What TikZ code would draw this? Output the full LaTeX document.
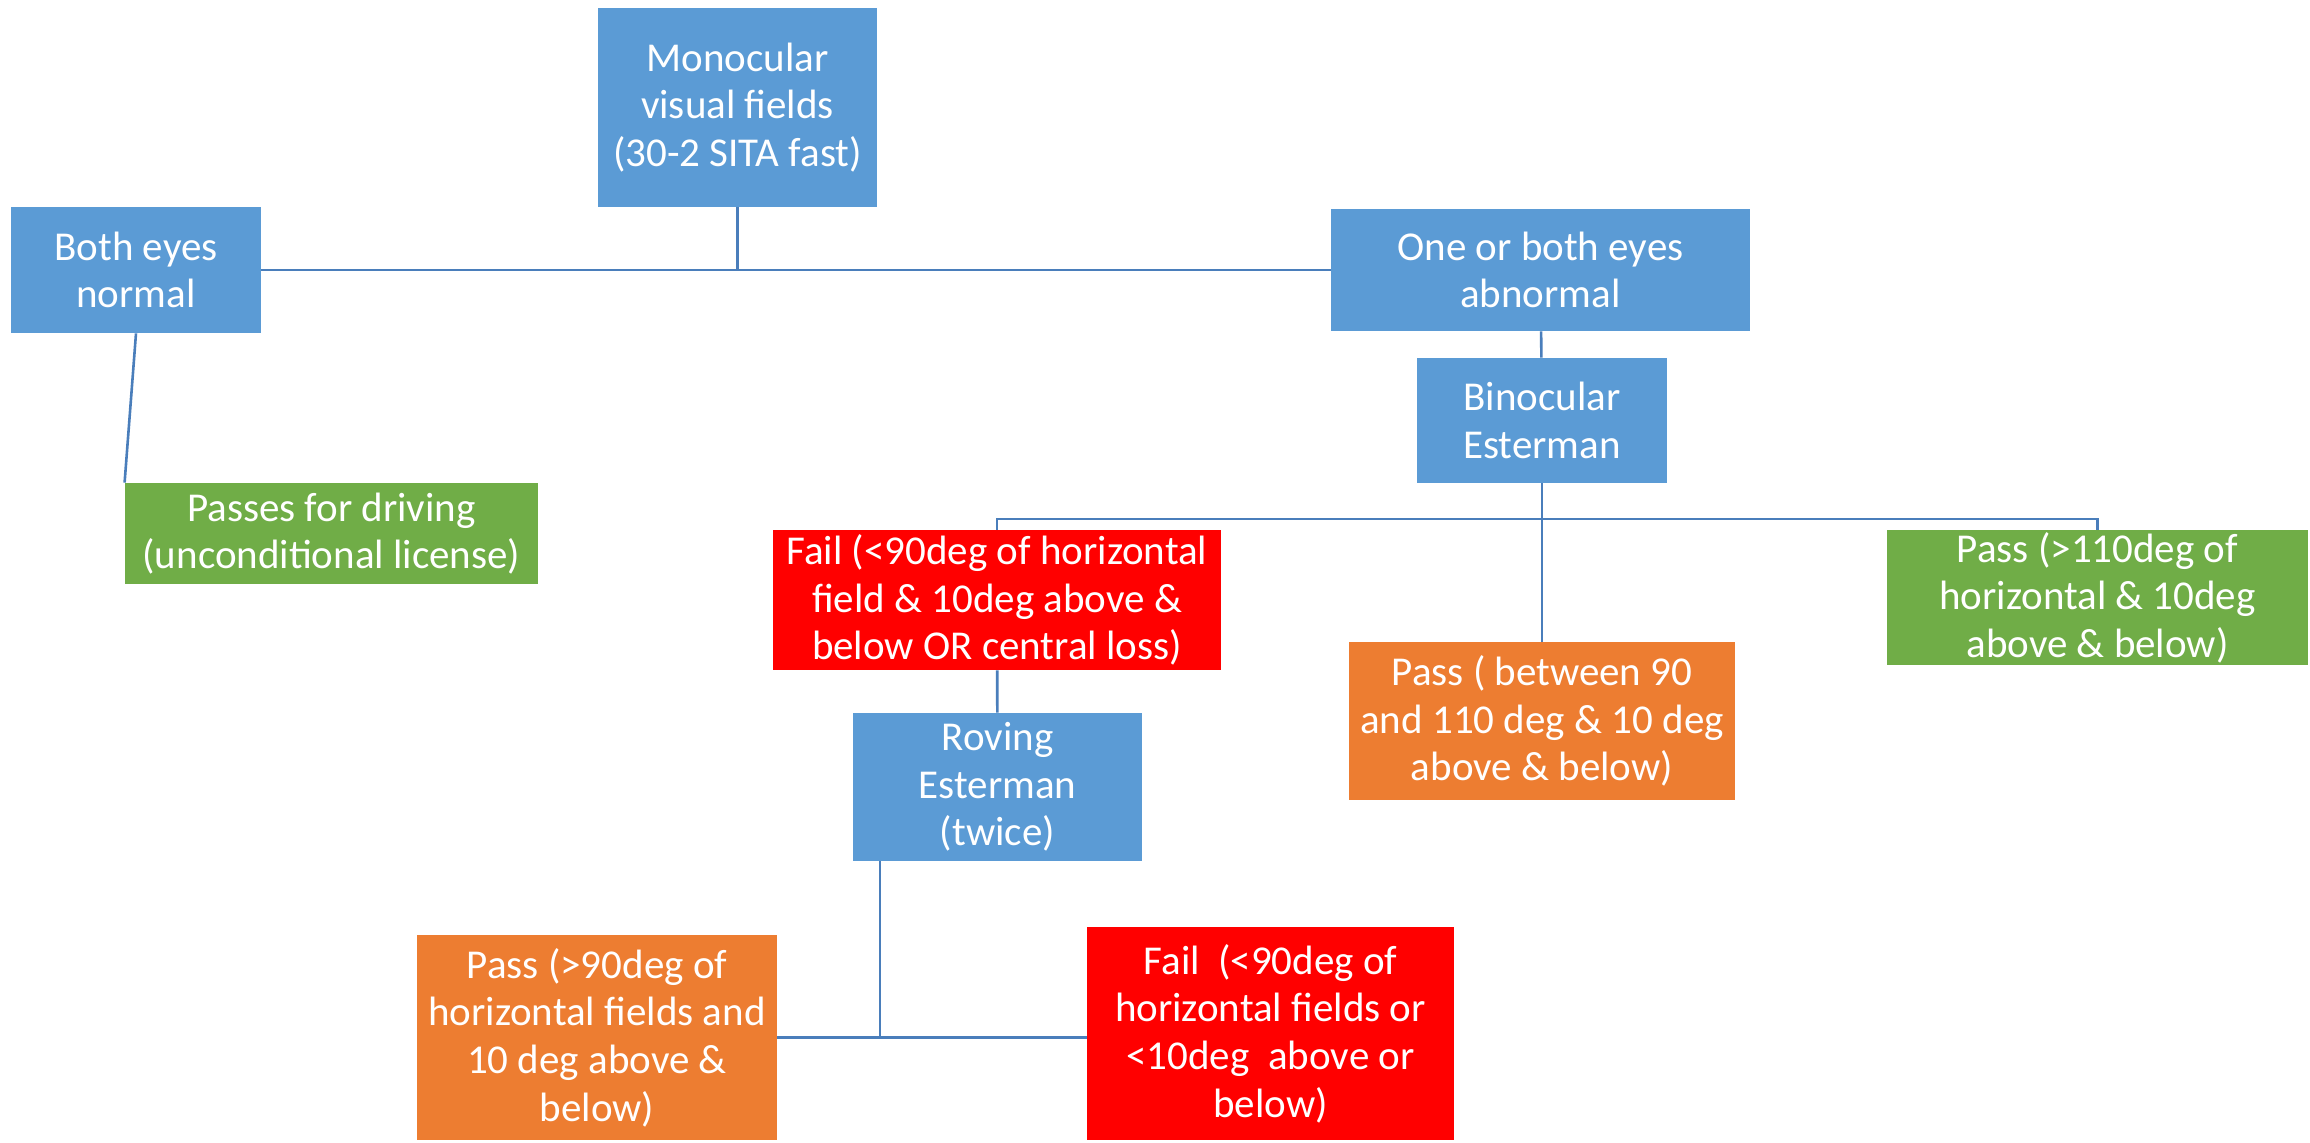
\documentclass[tikz,border=0pt]{standalone}
\usepackage{fontspec}
\setmainfont{Carlito}
\usetikzlibrary{positioning}
\definecolor{mblue}{RGB}{91,155,213}
\definecolor{mgreen}{RGB}{112,173,71}
\definecolor{morange}{RGB}{237,125,49}
\definecolor{mred}{RGB}{255,0,0}
\definecolor{mline}{RGB}{74,126,187}
\tikzset{box/.style = {text = white, align = center, inner sep = 0,
                       font = \fontsize{20.5}{23.8}\selectfont}}
\tikzset{link/.style = {mline, line width = 1.3pt}}

\begin{document}
\begin{tikzpicture}[x = 0.5pt, y = -0.5pt]
  \useasboundingbox (0, 0) rectangle (2310, 1142);

  \node [box, fill = mblue, minimum width = 139.5pt, minimum height = 99.5pt] (mono) at (737.5, 107.5) {Monocular\\visual fields\\(30-2 SITA fast)};
  \node [box, fill = mblue, minimum width = 125pt, minimum height = 63pt] (both) at (136, 270) {Both eyes\\normal};
  \node [box, fill = mblue, minimum width = 209.5pt, minimum height = 61pt] (other) at (1540.5, 270) {One or both eyes\\abnormal};
  \node [box, fill = mgreen, minimum width = 206.5pt, minimum height = 50.5pt] (drive) at (331.5, 533.5) {Passes for driving\\(unconditional license)};
  \node [box, fill = mblue, minimum width = 125pt, minimum height = 62.5pt] (bino) at (1542, 420.5) {Binocular\\Esterman};

  \node [box, fill = mred, minimum width = 224pt, minimum height = 70pt] (fail) at (997, 600) {Fail (<90deg of horizontal\\field \& 10deg above \&\\below OR central loss)};
  \node [box, fill = morange, minimum width = 193pt, minimum height = 79pt] (mid) at (1542, 721) {Pass ( between 90\\and 110 deg \& 10 deg\\above \& below)};
  \node [box, fill = mgreen, minimum width = 210.5pt, minimum height = 67.5pt] (wide) at (2097.5, 597.5) {Pass (>110deg of\\horizontal \& 10deg\\above \& below)};

  \node [box, fill = mblue, minimum width = 144.5pt, minimum height = 74pt] (roving) at (997.5, 787) {Roving\\Esterman\\(twice)};
  \node [box, fill = morange, minimum width = 180pt, minimum height = 102.5pt] (passr) at (597, 1037.5) {Pass (>90deg of\\horizontal fields and\\10 deg above \&\\below)};
  \node [box, fill = mred, minimum width = 183.5pt, minimum height = 106.5pt] (failr) at (1270.5, 1033.5) {Fail~ (<90deg of\\horizontal fields or\\<10deg~ above or\\below)};

  \coordinate (split) at (1541, 519);
  \coordinate (join) at (880, 1037);

  \draw [link] (both.east) -- (other.west);
  \draw [link] (mono.south) -- (mono.south |- both.east);
  \draw [link] (both.south) -- (drive.north west);
  \draw [link] (other) -- (bino);
  \draw [link] (bino) -- (mid);
  \draw [link] (fail.north) |- (split) -| (wide.north);
  \draw [link] (fail) -- (roving);
  \draw [link] (roving.south -| join) -- (join);
  \draw [link] (passr.east) -- (passr.east -| failr.west);
\end{tikzpicture}
\end{document}
